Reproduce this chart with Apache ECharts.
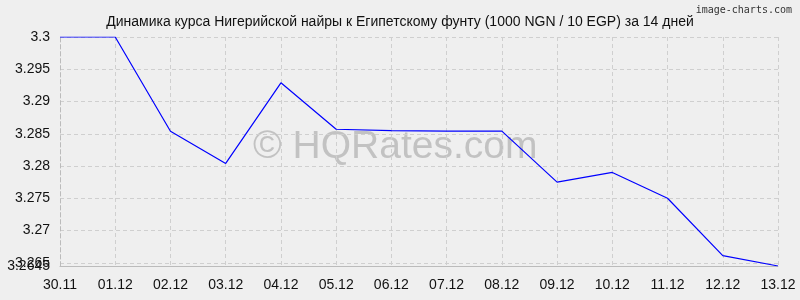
<!DOCTYPE html>
<html><head><meta charset="utf-8">
<script src="https://cdn.jsdelivr.net/npm/echarts@6/dist/echarts.min.js"></script>
<style>html,body{margin:0;padding:0;background:#efefef;}#c{width:800px;height:300px;}</style>
</head><body><div id="c"></div>
<script>
const categories = ["30.11","01.12","02.12","03.12","04.12","05.12","06.12","07.12","08.12","09.12","10.12","11.12","12.12","13.12"];
const rates = [3.3, 3.3, 3.2854, 3.2804, 3.2929, 3.2857, 3.2855, 3.2854, 3.2854, 3.2775, 3.2790, 3.2750, 3.2661, 3.2645];
const yTicks = [3.265, 3.27, 3.275, 3.28, 3.285, 3.29, 3.295, 3.3];
const yMinTick = [3.2645];
const yMin = 3.2645, yMax = 3.3;
const titleText = "Динамика курса Нигерийской найры к Египетскому фунту (1000 NGN / 10 EGP) за 14 дней";

const labelStyle = {fontFamily: 'Liberation Sans', fontSize: 14, color: '#111', margin: 10};
const chart = echarts.init(document.getElementById('c'), null, {renderer:'canvas'});
chart.setOption({
  backgroundColor: '#efefef',
  animation: false,
  title: {text: titleText, left: 'center', top: 10,
    textStyle: {fontFamily: 'Liberation Sans', fontSize: 14, fontWeight: 'normal', color: '#111'}},
  graphic: [
    {type: 'text', right: 8, top: 5, z: 10,
     style: {text: 'image-charts.com', fontFamily: 'DejaVu Sans Mono', fontSize: 10, fill: '#333'}},
    {type: 'text', left: 253, top: 128, z: 0,
     style: {text: '© HQRates.com', fontFamily: 'Liberation Sans', fontSize: 39, fill: 'rgba(140,140,140,0.45)'}}
  ],
  grid: {left: 60, right: 22, top: 37, bottom: 34, containLabel: false},
  xAxis: {type: 'category', data: categories, boundaryGap: false,
    axisLine: {show: true, lineStyle: {color: '#bbb'}},
    axisTick: {show: false},
    axisLabel: {fontFamily: 'Liberation Sans', fontSize: 14, color: '#111', margin: 12},
    splitLine: {show: true, lineStyle: {color: '#cfcfcf', type: [4,3]}}},
  yAxis: [
    {type: 'value', min: yMin, max: yMax, position: 'left',
      axisLine: {show: true, lineStyle: {color: '#bbb', type: [4,3]}},
      axisTick: {show: false, customValues: yTicks},
      axisLabel: Object.assign({customValues: yTicks}, labelStyle),
      splitLine: {show: true, lineStyle: {color: '#cfcfcf', type: [4,3]}}},
    {type: 'value', min: yMin, max: yMax, position: 'left', offset: 0,
      axisLine: {show: false},
      axisTick: {show: false, customValues: yMinTick},
      axisLabel: Object.assign({customValues: yMinTick, showMinLabel: true}, labelStyle),
      splitLine: {show: false}}
  ],
  series: [{type: 'line', data: rates, symbol: 'none', z: 5, yAxisIndex: 0,
    lineStyle: {color: '#0000ff', width: 1.2}}]
});
</script></body></html>
